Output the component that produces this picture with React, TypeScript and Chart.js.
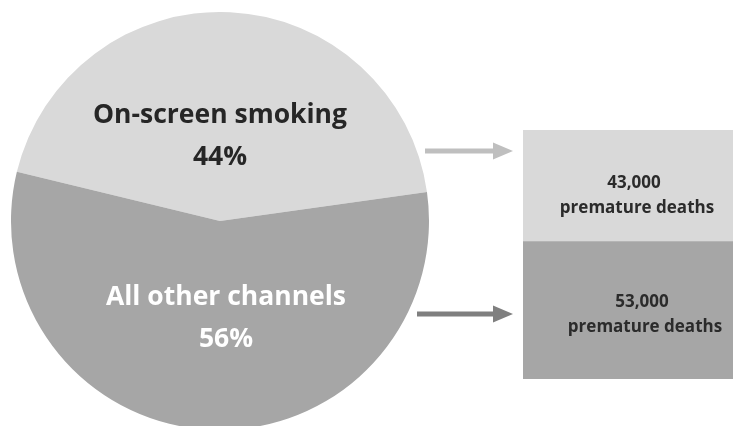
import React, { useEffect, useRef } from "react";
import { Chart, registerables } from "chart.js";

Chart.register(...registerables);

const pieLabels = ["On-screen smoking", "All other channels"];
const pieValues = [44, 56];
const pieColors = ["#d9d9d9", "#a6a6a6"];
const pieTextColors = ["#262626", "#ffffff"];

const barCategories = ["Deaths"];
const barSeriesNames = ["All other channels", "On-screen smoking"];
const barValues = [53000, 43000];
const barColors = ["#a6a6a6", "#d9d9d9"];
const barLineTwo = "premature deaths";
const arrowColors = ["#7f7f7f", "#bfbfbf"];

const FONT = "'Open Sans', 'Noto Sans', sans-serif";

const pieLabelPlugin = {
  id: "pieLabels",
  afterDraw(chart: any) {
    const ctx = chart.ctx;
    const meta = chart.getDatasetMeta(0);
    const offsets = [
      { dx: 0, dy: -106, dy2: -64 },
      { dx: 6, dy: 76, dy2: 118 },
    ];
    meta.data.forEach((arc: any, i: number) => {
      const o = offsets[i];
      ctx.save();
      ctx.fillStyle = pieTextColors[i];
      ctx.textAlign = "center";
      ctx.textBaseline = "middle";
      ctx.font = `bold 26.5px ${FONT}`;
      ctx.fillText(pieLabels[i], arc.x + o.dx, arc.y + o.dy);
      ctx.fillText(`${pieValues[i]}%`, arc.x + o.dx, arc.y + o.dy2);
      ctx.restore();
    });
  },
};

const barDecorPlugin = {
  id: "barDecor",
  afterDraw(chart: any) {
    const ctx = chart.ctx;
    const area = chart.chartArea;
    chart.data.datasets.forEach((ds: any, di: number) => {
      const el = chart.getDatasetMeta(di).data[0];
      const cy = (el.y + el.base) / 2;
      const cx = area.left + (area.right - area.left) / 2 + (di === 0 ? 17 : 9);
      const shift = di === 0 ? -8 : -3;
      ctx.save();
      ctx.fillStyle = "#2b2b2b";
      ctx.textAlign = "center";
      ctx.textBaseline = "middle";
      ctx.font = `bold 17px ${FONT}`;
      ctx.fillText(ds.data[0].toLocaleString("en-US"), cx - 3, cy + shift);
      ctx.fillText(barLineTwo, cx, cy + shift + 25);
      ctx.restore();
    });
    const arrows = [
      { ds: 0, y: area.top + 184, x0: area.left - 106 },
      { ds: 1, y: area.top + 21, x0: area.left - 98 },
    ];
    arrows.forEach((a) => {
      const xEnd = area.left - 10;
      const headLen = 20;
      ctx.save();
      ctx.fillStyle = arrowColors[a.ds];
      ctx.fillRect(a.x0, a.y - 2.5, xEnd - headLen - a.x0, 5);
      ctx.beginPath();
      ctx.moveTo(xEnd - headLen, a.y - 8.5);
      ctx.lineTo(xEnd, a.y);
      ctx.lineTo(xEnd - headLen, a.y + 8.5);
      ctx.closePath();
      ctx.fill();
      ctx.restore();
    });
  },
};

export default function App() {
  const pieRef = useRef<HTMLCanvasElement>(null);
  const barRef = useRef<HTMLCanvasElement>(null);

  useEffect(() => {
    document.body.style.margin = "0";
    const pie = new Chart(pieRef.current!, {
      type: "pie",
      data: {
        labels: pieLabels,
        datasets: [
          {
            data: pieValues,
            backgroundColor: pieColors,
            borderWidth: 0,
            hoverOffset: 0,
          },
        ],
      },
      options: {
        responsive: false,
        animation: false,
        rotation: -76.4,
        layout: { padding: 0 },
        plugins: { legend: { display: false }, tooltip: { enabled: false } },
      },
      plugins: [pieLabelPlugin],
    });
    const bar = new Chart(barRef.current!, {
      type: "bar",
      data: {
        labels: barCategories,
        datasets: barValues.map((v, i) => ({
          label: barSeriesNames[i],
          data: [v],
          backgroundColor: barColors[i],
          borderWidth: 0,
          barPercentage: 1,
          categoryPercentage: 1,
        })),
      },
      options: {
        responsive: false,
        animation: false,
        layout: { padding: { left: 113, top: 0, right: 0, bottom: 0 } },
        scales: {
          x: { stacked: true, display: false },
          y: { stacked: true, display: false, min: 0, max: 96000 },
        },
        plugins: { legend: { display: false }, tooltip: { enabled: false } },
      },
      plugins: [barDecorPlugin],
    });
    return () => {
      pie.destroy();
      bar.destroy();
    };
  }, []);

  return (
    <div
      style={{
        position: "fixed",
        left: 0,
        top: 0,
        width: 733,
        height: 426,
        overflow: "hidden",
        background: "#ffffff",
      }}
    >
      <canvas
        ref={pieRef}
        width={418}
        height={418}
        style={{ position: "absolute", left: 11, top: 12, width: 418, height: 418 }}
      />
      <canvas
        ref={barRef}
        width={323}
        height={249}
        style={{ position: "absolute", left: 410, top: 130, width: 323, height: 249 }}
      />
    </div>
  );
}
